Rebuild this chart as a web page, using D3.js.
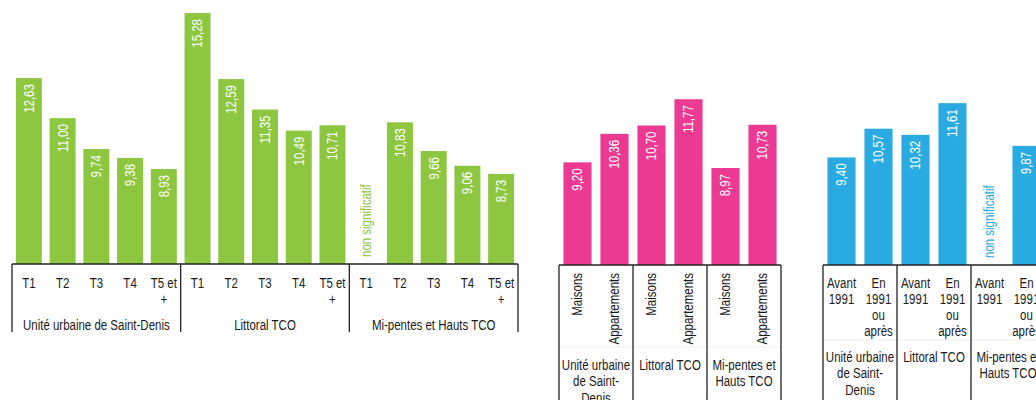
<!DOCTYPE html>
<html><head><meta charset="utf-8">
<script src="https://cdn.jsdelivr.net/npm/d3@7"></script>
<style>
html,body{margin:0;padding:0;background:#fff;}
svg{display:block;font-family:"Liberation Sans",Arial,sans-serif;}
</style></head>
<body>
<svg id="chart" width="1036" height="400"></svg>
<script>
// ---- data ----
const groupsOneLine = ["Unité urbaine de Saint-Denis", "Littoral TCO", "Mi-pentes et Hauts TCO"];
const groupsWrapped = ["Unité urbaine\nde Saint-\nDenis", "Littoral TCO", "Mi-pentes et\nHauts TCO"];

const roomCats = ["T1", "T2", "T3", "T4", "T5 et\n+"];
const roomValues = [12.63, 11.00, 9.74, 9.38, 8.93,
                    15.28, 12.59, 11.35, 10.49, 10.71,
                    null, 10.83, 9.66, 9.06, 8.73];

const typeCats = ["Maisons", "Appartements"];
const typeValues = [9.20, 10.36, 10.70, 11.77, 8.97, 10.73];

const periodCats = ["Avant\n1991", "En\n1991\nou\naprès"];
const periodValues = [9.40, 10.57, 10.32, 11.61, null, 9.87];

const nsLabel = "non significatif";
const fmt = v => v.toFixed(2).replace(".", ",");

// ---- drawing ----
const svg = d3.select("#chart");
const FS = 14;
const SX = 0.82; // narrow face emulation

function panel(opt) {
  const n = opt.values.length;
  const perGroup = opt.cats.length;
  const keys = d3.range(n);
  const x = d3.scaleBand().domain(keys).range([opt.x0, opt.x1]).paddingInner(opt.pad).paddingOuter(opt.pad / 2);
  const y = d3.scaleLinear().domain([5, 16]).range([265.5, 265.5 - 11 * 24.56]);
  const g = svg.append("g");
  const base = opt.base;

  // bars
  g.selectAll("rect.bar").data(keys.filter(i => opt.values[i] != null)).join("rect")
    .attr("class", "bar")
    .attr("x", i => x(i)).attr("width", x.bandwidth())
    .attr("y", i => y(opt.values[i])).attr("height", i => base - y(opt.values[i]))
    .attr("fill", opt.color);

  // value labels
  g.selectAll("text.val").data(keys.filter(i => opt.values[i] != null)).join("text")
    .attr("class", "val")
    .attr("transform", i => `translate(${x(i) + x.bandwidth() / 2},${y(opt.values[i]) + 6}) rotate(-90) scale(${SX},1)`)
    .attr("text-anchor", "end").attr("dy", "0.35em")
    .attr("fill", "#fff").attr("font-size", FS)
    .text(i => fmt(opt.values[i]));

  // non significatif
  g.selectAll("text.ns").data(keys.filter(i => opt.values[i] == null)).join("text")
    .attr("class", "ns")
    .attr("transform", i => `translate(${x(i) + x.bandwidth() / 2},${base - 7}) rotate(-90) scale(${SX},1)`)
    .attr("text-anchor", "start").attr("dy", "0.35em")
    .attr("fill", opt.color).attr("font-size", FS)
    .text(nsLabel);

  // axis with category labels
  const step = x.step();
  const axisG = g.append("g").attr("transform", `translate(0,${base})`)
    .call(d3.axisBottom(x).tickSize(0).tickFormat(i => opt.cats[i % perGroup]));
  axisG.select(".domain").remove();
  axisG.attr("font-family", null).attr("font-size", null);
  axisG.selectAll(".tick text").each(function (i) {
    const t = d3.select(this);
    const lines = opt.cats[i % perGroup].split("\n");
    t.text(null).attr("font-size", FS).attr("fill", "#1a1a1a").attr("y", null).attr("dy", null);
    if (opt.rotateCats) {
      t.attr("text-anchor", "end")
        .attr("transform", `translate(0,${opt.catY}) rotate(-90) scale(${SX},1)`);
      t.append("tspan").attr("x", 0).attr("y", 0).attr("dy", "0.35em").text(lines[0]);
    } else {
      t.attr("text-anchor", "middle").attr("transform", `translate(0,${opt.catY}) scale(${SX},1)`);
      lines.forEach((l, k) => t.append("tspan").attr("x", 0).attr("y", k * 16).attr("dy", "0.35em").text(l));
    }
  });

  // frame lines
  g.append("line").attr("x1", opt.x0).attr("x2", opt.x1).attr("y1", base).attr("y2", base)
    .attr("stroke", "#222").attr("stroke-width", 1.3);
  if (opt.faintY) {
    g.append("line").attr("x1", opt.x0).attr("x2", opt.x1).attr("y1", opt.faintY).attr("y2", opt.faintY)
      .attr("stroke", "#ececec").attr("stroke-width", 1);
  }
  const nG = n / perGroup;
  d3.range(nG + 1).forEach(k => {
    const xx = opt.x0 + k * perGroup * step;
    g.append("line").attr("x1", xx).attr("x2", xx).attr("y1", base).attr("y2", opt.lineBottom)
      .attr("stroke", "#222").attr("stroke-width", 1.3);
  });

  // group labels
  d3.range(nG).forEach(k => {
    const cx = opt.x0 + (k + 0.5) * perGroup * step;
    const t = g.append("text").attr("text-anchor", "middle").attr("font-size", FS).attr("fill", "#1a1a1a")
      .attr("transform", `translate(${cx},${opt.groupY}) scale(${SX},1)`);
    opt.groups[k].split("\n").forEach((l, j) =>
      t.append("tspan").attr("x", 0).attr("y", j * 16.5).attr("dy", "0.35em").text(l));
  });
}

panel({ values: roomValues, cats: roomCats, groups: groupsOneLine, color: "#8dc63f",
  x0: 12, x1: 518, pad: 0.23, base: 264, catY: 19, groupY: 325, lineBottom: 332, rotateCats: false });

panel({ values: typeValues, cats: typeCats, groups: groupsWrapped, color: "#ec3a93",
  x0: 559, x1: 781, pad: 0.24, base: 265, catY: 8, groupY: 365, lineBottom: 400, rotateCats: true, faintY: 347 });

panel({ values: periodValues, cats: periodCats, groups: groupsWrapped, color: "#29abe2",
  x0: 823, x1: 1045, pad: 0.24, base: 265, catY: 18, groupY: 357, lineBottom: 400, rotateCats: false, faintY: 340 });
</script>
</body></html>
